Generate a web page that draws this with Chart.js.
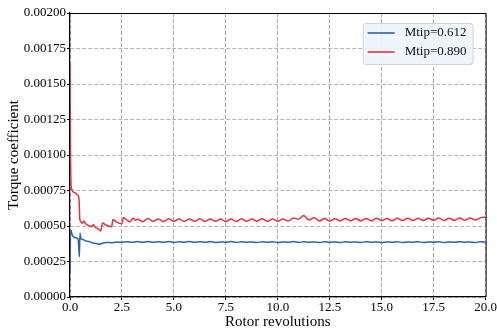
<!DOCTYPE html>
<html>
<head>
<meta charset="utf-8">
<script src="https://cdn.jsdelivr.net/npm/chart.js@4.4.1/dist/chart.umd.min.js"></script>
<style>
  html, body { margin: 0; padding: 0; background: #fff; }
  #wrap { width: 497px; height: 332px; }
</style>
</head>
<body>
<div id="wrap"><canvas id="torqueChart" width="497" height="332"></canvas></div>
<script>
// series labels
const seriesNames = ['Mtip=0.612', 'Mtip=0.890'];

// start-up transient
const blueHeadRevs = [0, 0.02, 0.05, 0.1, 0.2, 0.3, 0.38, 0.42, 0.45, 0.48, 0.53, 0.62, 0.75, 0.94, 1.1, 1.25, 1.4, 1.55, 1.75, 2.0, 2.25, 2.5, 2.75, 3.0, 3.25];
const blueHead = [0.00017, 0.00043, 0.00047, 0.00044, 0.00042, 0.000415, 0.00041, 0.00036, 0.000284, 0.00045, 0.00041, 0.000405, 0.000395, 0.00039, 0.00038, 0.000377, 0.000372, 0.000378, 0.000384, 0.000382, 0.000387, 0.000385, 0.000389, 0.000386, 0.00039];

const redHeadRevs = [0, 0.02, 0.05, 0.08, 0.15, 0.25, 0.35, 0.43, 0.47, 0.52, 0.6, 0.66, 0.75, 0.85, 0.95, 1.05, 1.12, 1.22, 1.35, 1.48, 1.56, 1.7, 1.85, 2.0, 2.07, 2.2, 2.35, 2.5, 2.57, 2.75, 2.9, 3.03, 3.15, 3.25];
const redHead = [0.00165, 0.0011, 0.00079, 0.00076, 0.00074, 0.000735, 0.00072, 0.0007, 0.00055, 0.00053, 0.00052, 0.000535, 0.000515, 0.000505, 0.0005, 0.000495, 0.00051, 0.00049, 0.00048, 0.000465, 0.000522, 0.00051, 0.0005, 0.000495, 0.000545, 0.000532, 0.00052, 0.000515, 0.00056, 0.00054, 0.00053, 0.000555, 0.00054, 0.000548];

// periodic part (3.5 .. 20 revolutions)
const tailRevs = [3.5, 3.75, 4.0, 4.25, 4.5, 4.75, 5.0, 5.25, 5.5, 5.75, 6.0, 6.25, 6.5, 6.75, 7.0, 7.25, 7.5, 7.75, 8.0, 8.25, 8.5, 8.75, 9.0, 9.25, 9.5, 9.75, 10.0, 10.25, 10.5, 10.75, 11.0, 11.25, 11.5, 11.75, 12.0, 12.25, 12.5, 12.75, 13.0, 13.25, 13.5, 13.75, 14.0, 14.25, 14.5, 14.75, 15.0, 15.25, 15.5, 15.75, 16.0, 16.25, 16.5, 16.75, 17.0, 17.25, 17.5, 17.75, 18.0, 18.25, 18.5, 18.75, 19.0, 19.25, 19.5, 19.75, 20.0];
const redTail = [0.00053, 0.000552, 0.000532, 0.00055, 0.000531, 0.000551, 0.000533, 0.000549, 0.000532, 0.00055, 0.000533, 0.000551, 0.000532, 0.000549, 0.000533, 0.00055, 0.000531, 0.000549, 0.000532, 0.000551, 0.000533, 0.00055, 0.000534, 0.000551, 0.000533, 0.00055, 0.000534, 0.000549, 0.000535, 0.000556, 0.000548, 0.000574, 0.000542, 0.000558, 0.000536, 0.000552, 0.000535, 0.000551, 0.000536, 0.000553, 0.000537, 0.000552, 0.000536, 0.000553, 0.000537, 0.000554, 0.000538, 0.000553, 0.000537, 0.000554, 0.000538, 0.000555, 0.000539, 0.000554, 0.000538, 0.000555, 0.00054, 0.000556, 0.000539, 0.000555, 0.00054, 0.000556, 0.000541, 0.000557, 0.000542, 0.000558, 0.000562];
const blueTail = [0.000386, 0.00039, 0.000385, 0.000389, 0.000386, 0.00039, 0.000384, 0.000389, 0.000386, 0.000391, 0.000385, 0.000389, 0.000386, 0.00039, 0.000384, 0.000388, 0.000385, 0.00039, 0.000384, 0.000389, 0.000385, 0.000388, 0.000384, 0.000389, 0.000385, 0.000389, 0.000384, 0.000388, 0.000385, 0.00039, 0.000384, 0.000389, 0.000385, 0.000388, 0.000384, 0.000389, 0.000385, 0.000388, 0.000384, 0.000389, 0.000385, 0.000388, 0.000384, 0.000389, 0.000385, 0.000388, 0.000384, 0.000388, 0.000385, 0.000389, 0.000384, 0.000388, 0.000385, 0.000389, 0.000384, 0.000388, 0.000385, 0.000389, 0.000384, 0.000388, 0.000385, 0.000389, 0.000385, 0.000388, 0.000384, 0.000389, 0.000386];

const BLUE = '#2f5fae';
const RED = '#e5323e';
const SERIF = '"Liberation Serif", "DejaVu Serif", serif';

function toPoints(revs, vals) {
  return revs.map((r, i) => ({ x: r, y: vals[i] }));
}

// box around the plot + legend drawn inside the plot area
const framePlugin = {
  id: 'frame',
  afterDraw(chart) {
    const { ctx, chartArea } = chart;
    ctx.save();
    ctx.strokeStyle = '#000';
    ctx.lineWidth = 1;
    ctx.beginPath();
    ctx.moveTo(chartArea.left, chartArea.top + 0.5);
    ctx.lineTo(chartArea.right + 0.5, chartArea.top + 0.5);
    ctx.lineTo(chartArea.right + 0.5, chartArea.bottom);
    ctx.stroke();

    // legend
    const bx = chartArea.right - 123, by = chartArea.top + 10, bw = 110, bh = 41;
    ctx.beginPath();
    ctx.roundRect(bx + 0.5, by + 0.5, bw, bh, 3);
    ctx.fillStyle = 'rgba(238,244,250,0.92)';
    ctx.fill();
    ctx.strokeStyle = '#cfd4da';
    ctx.stroke();

    ctx.font = '13px ' + SERIF;
    ctx.textBaseline = 'middle';
    ctx.textAlign = 'left';
    chart.data.datasets.forEach((ds, i) => {
      const y = by + 10 + i * 19;
      ctx.strokeStyle = ds.borderColor;
      ctx.lineWidth = 1.6;
      ctx.beginPath();
      ctx.moveTo(bx + 5, y);
      ctx.lineTo(bx + 32, y);
      ctx.stroke();
      ctx.fillStyle = '#111';
      ctx.fillText(ds.label, bx + 42, y);
    });
    ctx.restore();
  }
};

const ctx = document.getElementById('torqueChart').getContext('2d');
new Chart(ctx, {
  type: 'line',
  data: {
    datasets: [
      {
        label: seriesNames[0],
        data: toPoints(blueHeadRevs.concat(tailRevs), blueHead.concat(blueTail)),
        borderColor: BLUE,
        borderWidth: 1.5,
        pointRadius: 0,
        cubicInterpolationMode: 'monotone',
        fill: false
      },
      {
        label: seriesNames[1],
        data: toPoints(redHeadRevs.concat(tailRevs), redHead.concat(redTail)),
        borderColor: RED,
        borderWidth: 1.5,
        pointRadius: 0,
        cubicInterpolationMode: 'monotone',
        fill: false
      }
    ]
  },
  options: {
    responsive: false,
    animation: false,
    layout: { padding: { left: 0, right: 11, top: 13, bottom: 0 } },
    plugins: {
      legend: { display: false },
      tooltip: { enabled: false }
    },
    scales: {
      x: {
        type: 'linear',
        min: 0,
        max: 20,
        afterFit: (s) => { s.height = 35; },
        ticks: {
          stepSize: 2.5,
          color: '#000',
          padding: 0,
          maxRotation: 0,
          font: { family: SERIF, size: 13 },
          callback: (v) => v.toFixed(1)
        },
        grid: { color: '#a8a8a8', lineWidth: 1, tickLength: 3, tickColor: '#000' },
        border: { display: true, color: '#000', width: 1.2, dash: [4, 2] },
        title: {
          display: true,
          text: 'Rotor revolutions',
          color: '#000',
          font: { family: SERIF, size: 15 },
          padding: { top: 0, bottom: 1 }
        }
      },
      y: {
        min: 0,
        max: 0.002,
        afterFit: (s) => { s.width = 70; },
        ticks: {
          stepSize: 0.00025,
          color: '#000',
          padding: 1,
          font: { family: SERIF, size: 13 },
          callback: (v) => v.toFixed(5)
        },
        grid: { color: '#b4b4b4', lineWidth: 1, tickLength: 3, tickColor: '#000' },
        border: { display: true, color: '#000', width: 1.2, dash: [4, 2] },
        title: {
          display: true,
          text: 'Torque coefficient',
          color: '#000',
          font: { family: SERIF, size: 15 },
          padding: { top: 5, bottom: 0 }
        }
      }
    }
  },
  plugins: [framePlugin]
});
</script>
</body>
</html>
